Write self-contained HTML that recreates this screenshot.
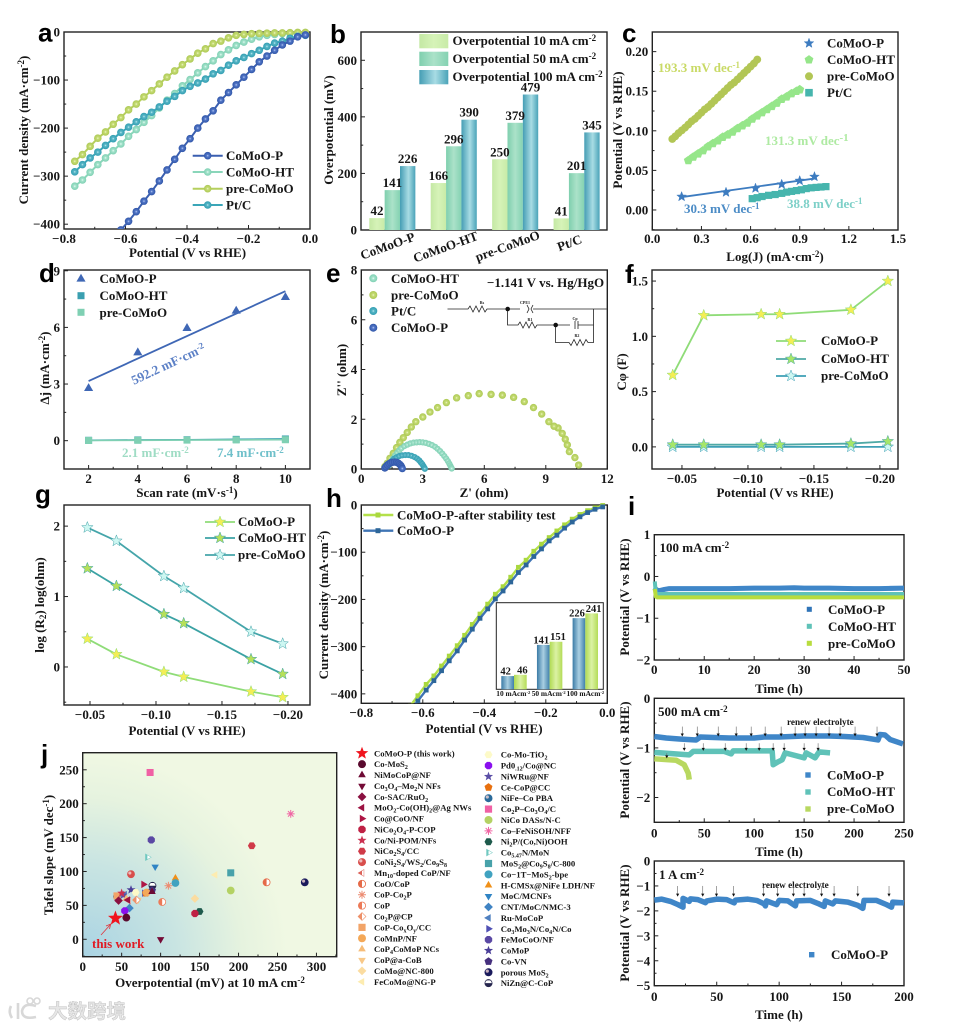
<!DOCTYPE html>
<html lang="en">
<head>
<meta charset="utf-8">
<title>CoMoO-P HER performance figure</title>
<style>
html,body{margin:0;padding:0;background:#fff;}
svg{display:block;width:965px;height:1027px;filter:blur(0.35px);}
text{font-family:"Liberation Serif","Noto Serif CJK SC",serif;font-weight:bold;font-size:13px;fill:#161616;}
.pl{font-family:"Liberation Sans",sans-serif;font-size:26px;fill:#000;}
</style>
</head>
<body>
<svg id="fig" viewBox="0 0 965 1027" width="965" height="1027">
<defs>
<radialGradient id="jbg" gradientUnits="userSpaceOnUse" cx="83" cy="957" r="205">
<stop offset="0" stop-color="#a9d3e3"/><stop offset="0.45" stop-color="#c8e4e2"/><stop offset="0.78" stop-color="#e6f3df"/><stop offset="1" stop-color="#f0f8e3"/>
</radialGradient>
<radialGradient id="ball-p" cx="0.5" cy="0.5" r="0.5"><stop offset="0" stop-color="#c6d6fa"/><stop offset="0.3" stop-color="#5478c8"/><stop offset="1" stop-color="#2f55a8"/></radialGradient>
<radialGradient id="ball-ht" cx="0.5" cy="0.5" r="0.5"><stop offset="0" stop-color="#ecfff7"/><stop offset="0.32" stop-color="#a3e2cb"/><stop offset="1" stop-color="#7fd0b3"/></radialGradient>
<radialGradient id="ball-pre" cx="0.5" cy="0.5" r="0.5"><stop offset="0" stop-color="#f4fbd4"/><stop offset="0.3" stop-color="#c6dc74"/><stop offset="1" stop-color="#adc955"/></radialGradient>
<radialGradient id="ball-pt" cx="0.5" cy="0.5" r="0.5"><stop offset="0" stop-color="#cdf3f8"/><stop offset="0.3" stop-color="#58b6c6"/><stop offset="1" stop-color="#329eb2"/></radialGradient>
<linearGradient id="bar-10"><stop offset="0" stop-color="#c4e8a4"/><stop offset="0.5" stop-color="#d6f3b8"/><stop offset="1" stop-color="#c8eba8"/></linearGradient>
<linearGradient id="bar-50"><stop offset="0" stop-color="#7fcfae"/><stop offset="0.5" stop-color="#abe2c9"/><stop offset="1" stop-color="#84d2b2"/></linearGradient>
<linearGradient id="bar-100"><stop offset="0" stop-color="#459db4"/><stop offset="0.55" stop-color="#a8dce4"/><stop offset="1" stop-color="#4aa3b8"/></linearGradient>
<linearGradient id="inset-blue"><stop offset="0" stop-color="#3b7ba6"/><stop offset="0.5" stop-color="#a9cfe2"/><stop offset="1" stop-color="#3f80aa"/></linearGradient>
<linearGradient id="inset-green"><stop offset="0" stop-color="#b0da52"/><stop offset="0.5" stop-color="#dbf2a4"/><stop offset="1" stop-color="#b4dc58"/></linearGradient>
</defs>

<rect x="0" y="0" width="965" height="1027" fill="#fff"/>
<rect x="83" y="753" width="254" height="204" fill="url(#jbg)"/>

<text class="pl" x="38" y="41.5">a</text>
<text class="pl" x="330" y="43">b</text>
<text class="pl" x="622" y="42">c</text>
<text class="pl" x="39" y="282">d</text>
<text class="pl" x="326" y="282">e</text>
<text class="pl" x="625" y="283">f</text>
<text class="pl" x="35" y="503">g</text>
<text class="pl" x="326" y="507">h</text>
<text class="pl" x="628" y="515">i</text>
<text class="pl" x="41" y="763">j</text>

<!-- axis titles -->
<text x="187.5" y="257" text-anchor="middle">Potential (V vs RHE)</text>
<text transform="translate(28,130) rotate(-90)" text-anchor="middle">Current density (mA·cm<tspan dy="-4" font-size="9">-2</tspan><tspan dy="4">)</tspan></text>
<text transform="translate(333,130) rotate(-90)" text-anchor="middle">Overpotential (mV)</text>
<text x="775" y="261" text-anchor="middle">Log(J) (mA·cm<tspan dy="-4" font-size="9">-2</tspan><tspan dy="4">)</tspan></text>
<text transform="translate(622,130) rotate(-90)" text-anchor="middle">Potential (V vs RHE)</text>
<text x="187" y="497" text-anchor="middle">Scan rate (mV·s<tspan dy="-4" font-size="9">-1</tspan><tspan dy="4">)</tspan></text>
<text transform="translate(49,368) rotate(-90)" text-anchor="middle">Δj (mA·cm<tspan dy="-4" font-size="9">-2</tspan><tspan dy="4">)</tspan></text>
<text x="484" y="497" text-anchor="middle">Z' (ohm)</text>
<text transform="translate(346,370) rotate(-90)" text-anchor="middle">Z'' (ohm)</text>
<text x="775" y="497" text-anchor="middle">Potential (V vs RHE)</text>
<text transform="translate(626,372) rotate(-90)" text-anchor="middle">Cφ (F)</text>
<text x="187" y="735" text-anchor="middle">Potential (V vs RHE)</text>
<text transform="translate(44,605) rotate(-90)" text-anchor="middle">log (R<tspan dy="2" font-size="9">2</tspan><tspan dy="-2">) log(ohm)</tspan></text>
<text x="484" y="733" text-anchor="middle">Potential (V vs RHE)</text>
<text transform="translate(328,605) rotate(-90)" text-anchor="middle">Current density (mA·cm<tspan dy="-4" font-size="9">-2</tspan><tspan dy="4">)</tspan></text>
<text x="779" y="693" text-anchor="middle">Time (h)</text>
<text transform="translate(629,597) rotate(-90)" text-anchor="middle">Potential (V vs RHE)</text>
<text x="779" y="856" text-anchor="middle">Time (h)</text>
<text transform="translate(629,760) rotate(-90)" text-anchor="middle">Potential (V vs RHE)</text>
<text x="779" y="1019" text-anchor="middle">Time (h)</text>
<text transform="translate(629,923) rotate(-90)" text-anchor="middle">Potential (V vs RHE)</text>
<text x="210" y="987" text-anchor="middle">Overpotential (mV) at 10 mA cm<tspan dy="-4" font-size="9">-2</tspan></text>
<text transform="translate(53,855) rotate(-90)" text-anchor="middle">Tafel slope (mV dec<tspan dy="-4" font-size="9">-1</tspan><tspan dy="4">)</tspan></text>

<!-- legends text -->
<text x="226" y="160">CoMoO-P</text>
<text x="226" y="176.5">CoMoO-HT</text>
<text x="226" y="193">pre-CoMoO</text>
<text x="226" y="209.5">Pt/C</text>

<text x="452.5" y="45">Overpotential 10 mA cm<tspan dy="-4" font-size="9">-2</tspan></text>
<text x="452.5" y="63">Overpotential 50 mA cm<tspan dy="-4" font-size="9">-2</tspan></text>
<text x="452.5" y="81">Overpotential 100 mA cm<tspan dy="-4" font-size="9">-2</tspan></text>
<text transform="translate(389,250) rotate(-20)" text-anchor="middle">CoMoO-P</text>
<text transform="translate(447,251) rotate(-20)" text-anchor="middle">CoMoO-HT</text>
<text transform="translate(509,250) rotate(-20)" text-anchor="middle">pre-CoMoO</text>
<text transform="translate(571,247) rotate(-20)" text-anchor="middle">Pt/C</text>

<text x="827" y="47.5">CoMoO-P</text>
<text x="827" y="64">CoMoO-HT</text>
<text x="827" y="80.5">pre-CoMoO</text>
<text x="827" y="97">Pt/C</text>
<text x="658" y="72" style="fill:#c9da66">193.3 mV dec<tspan dy="-4" font-size="9" style="fill:#c9da66">-1</tspan></text>
<text x="765" y="145" style="fill:#aeeaa2">131.3 mV dec<tspan dy="-4" font-size="11" style="fill:#aeeaa2">-1</tspan></text>
<text x="684" y="213" style="fill:#4c8cc6">30.3 mV dec<tspan dy="-4" font-size="9" style="fill:#4c8cc6">-1</tspan></text>
<text x="787" y="208" style="fill:#7ed0c8">38.8 mV dec<tspan dy="-4" font-size="9" style="fill:#7ed0c8">-1</tspan></text>

<text x="99.5" y="283">CoMoO-P</text>
<text x="99.5" y="300">CoMoO-HT</text>
<text x="99.5" y="317">pre-CoMoO</text>
<text transform="translate(170,368) rotate(-25)" text-anchor="middle" style="fill:#5c80c6">592.2 mF·cm<tspan dy="-4" font-size="9" style="fill:#5c80c6">-2</tspan></text>
<text x="122" y="457" style="fill:#9fdcc4">2.1 mF·cm<tspan dy="-4" font-size="9" style="fill:#9fdcc4">-2</tspan></text>
<text x="217" y="457" style="fill:#6fc0ca">7.4 mF·cm<tspan dy="-4" font-size="9" style="fill:#6fc0ca">-2</tspan></text>

<text x="391" y="283">CoMoO-HT</text>
<text x="391" y="299.5">pre-CoMoO</text>
<text x="391" y="315.5">Pt/C</text>
<text x="391" y="332">CoMoO-P</text>
<text x="487" y="287">−1.141 V vs. Hg/HgO</text>
<g fill="none" stroke="#222" stroke-width="0.8">
<path d="M447.5 309H468l2 -3 3 6 3 -6 3 6 3 -6 3 6 2 -3H507.5M507.5 309H520M527 305l2 4 -2 4M533 305l-2 4 2 4M533 309H606.5M507.5 309V325H518l2 -3 3 6 3 -6 3 6 3 -6 3 6 2 -3H555.5H570M575 321V329M578 321V329M578 325H593.5M593.5 309V342.5H588l-2 -3 -3 6 -3 -6 -3 6 -3 -6 -3 6 -2 -3H555.5V325"/>
</g>
<circle cx="507.7" cy="309" r="2.3" fill="#111"/>
<circle cx="555.7" cy="325" r="2.3" fill="#111"/>
<text x="482" y="304" text-anchor="middle" style="font-size:4px">Rs</text>
<text x="525" y="304" text-anchor="middle" style="font-size:4px">CPE1</text>
<text x="530" y="321" text-anchor="middle" style="font-size:4px">R1</text>
<text x="575" y="320" text-anchor="middle" style="font-size:4px">Cp</text>
<text x="577" y="337" text-anchor="middle" style="font-size:4px">R2</text>

<text x="821" y="345">CoMoO-P</text>
<text x="821" y="363">CoMoO-HT</text>
<text x="821" y="380">pre-CoMoO</text>

<text x="238" y="526">CoMoO-P</text>
<text x="238" y="542">CoMoO-HT</text>
<text x="238" y="559">pre-CoMoO</text>

<text x="397" y="519.5">CoMoO-P-after stability test</text>
<text x="397" y="535">CoMoO-P</text>

<text x="659.5" y="552">100 mA cm<tspan dy="-4" font-size="9">-2</tspan></text>
<text x="828" y="614">CoMoO-P</text>
<text x="828" y="631">CoMoO-HT</text>
<text x="828" y="648">pre-CoMoO</text>
<text x="658" y="716">500 mA cm<tspan dy="-4" font-size="9">-2</tspan></text>
<text x="787" y="725" style="font-size:9.2px">renew electrolyte</text>
<text x="827" y="779.5">CoMoO-P</text>
<text x="827" y="796">CoMoO-HT</text>
<text x="827" y="813">pre-CoMoO</text>
<text x="659" y="879">1 A cm<tspan dy="-4" font-size="9">-2</tspan></text>
<text x="762" y="888" style="font-size:9.2px">renew electrolyte</text>
<text x="831" y="959">CoMoO-P</text>

<text x="92" y="948" style="fill:#e01b24">this work</text>
<path d="M101 935L110 925M106 926L110.7 924 109.5 929" fill="none" stroke="#e0343c" stroke-width="0.8"/>

<g>
<path d="M11 1006Q8 1012 12 1018M18 1003V1019M36 1006Q24 1002 22 1011Q22 1020 36 1017" fill="none" stroke="#d8d8d8" stroke-width="2.6"/>
<circle cx="30" cy="1001" r="3" fill="none" stroke="#d8d8d8" stroke-width="1.6"/>
<circle cx="37" cy="1001" r="3" fill="none" stroke="#d8d8d8" stroke-width="1.6"/>
<text x="48" y="1018" style="font-family:'Noto Sans CJK SC','Liberation Sans',sans-serif;font-size:19.5px;fill:#e6e6e6;stroke:#c4c4c4;stroke-width:0.5">大数跨境</text>
</g>
</svg>

<script>
/* ---------- panel a: polarization curves ---------- */
const aPotential = [-0.765,-0.74,-0.715,-0.69,-0.665,-0.64,-0.615,-0.59,-0.565,-0.54,-0.515,-0.49,-0.465,-0.44,-0.415,-0.39,-0.365,-0.34,-0.315,-0.29,-0.265,-0.24,-0.215,-0.19,-0.165,-0.14,-0.115,-0.09,-0.065,-0.04,-0.015];
const aPre = [-269,-255,-238,-221,-208,-192,-178,-162,-150,-135,-122,-108,-94,-81,-68,-56,-44,-35,-24,-19,-12,-7,-5,-3.5,-3,-2.5,-2,-2,-1.5,-1,-1];
const aHT = [-321,-308,-292,-276,-262,-247,-233,-217,-203,-188,-174,-158,-142,-128,-112,-99,-85,-72,-60,-47,-37,-28,-21,-15,-10,-7,-5,-3.5,-3,-2,-1.5];
const aPt = [-291,-276,-262,-250,-236,-222,-209,-198,-187,-176,-167,-156,-144,-134,-122,-113,-106,-98,-87,-80,-69,-60,-53,-45,-38,-30,-23,-19,-13,-9,-7];
const aPotentialP = [-0.615,-0.59,-0.565,-0.54,-0.515,-0.49,-0.465,-0.44,-0.415,-0.39,-0.365,-0.34,-0.315,-0.29,-0.265,-0.24,-0.215,-0.19,-0.165,-0.14,-0.115,-0.09,-0.065,-0.04,-0.015];
const aP = [-412,-394,-374,-352,-332,-310,-287,-265,-242,-222,-200,-181,-164,-142,-126,-110,-94,-78,-62,-50,-38,-27,-19,-10,-6];
const aXTicks = [-0.8,-0.6,-0.4,-0.2,0];
const aXLabels = ['−0.8','−0.6','−0.4','−0.2','0.0'];
const aYTicks = [0,-100,-200,-300,-400];
const aYLabels = ['0','−100','−200','−300','−400'];

/* ---------- panel b: overpotential bars ---------- */
const bCategories = ['CoMoO-P','CoMoO-HT','pre-CoMoO','Pt/C'];
const bOver10 = [42,166,250,41];
const bOver50 = [141,296,379,201];
const bOver100 = [226,390,479,345];
const bYTicks = [0,200,400,600];
const bYLabels = ['0','200','400','600'];

/* ---------- panel c: Tafel plots ---------- */
const cPX = [0.179,0.45,0.63,0.79,0.9,0.99];
const cPY = [0.0168,0.0223,0.0274,0.0324,0.037,0.042];
const cPFitX = [0.17,1.0];
const cPFitY = [0.016,0.040];
const cHTX = [0.22,0.25,0.28,0.31,0.34,0.37,0.4,0.43,0.46,0.49,0.52,0.55,0.58,0.61,0.64,0.67,0.7,0.73,0.76,0.79,0.82,0.85,0.88,0.9];
const cHTY = [0.0625,0.067,0.071,0.075,0.08,0.084,0.0875,0.092,0.095,0.0985,0.103,0.1065,0.11,0.115,0.119,0.123,0.127,0.131,0.135,0.14,0.143,0.147,0.15,0.152];
const cPreX = [0.122,0.14,0.16,0.18,0.2,0.22,0.24,0.26,0.28,0.3,0.32,0.34,0.36,0.38,0.4,0.42,0.44,0.46,0.48,0.5,0.52,0.54,0.56,0.58,0.6,0.62,0.641];
const cPreY = [0.0897,0.093,0.097,0.1005,0.104,0.108,0.112,0.115,0.119,0.123,0.127,0.13,0.134,0.138,0.142,0.146,0.15,0.154,0.158,0.161,0.165,0.169,0.173,0.177,0.181,0.185,0.19];
const cPtX = [0.61,0.64,0.67,0.71,0.75,0.79,0.82,0.85,0.88,0.91,0.94,0.97,1.0,1.03,1.06];
const cPtY = [0.0143,0.0155,0.017,0.0185,0.0195,0.021,0.0225,0.0235,0.0245,0.0255,0.027,0.028,0.0285,0.029,0.0295];
const cXTicks = [0,0.3,0.6,0.9,1.2,1.5];
const cXLabels = ['0.0','0.3','0.6','0.9','1.2','1.5'];
const cYTicks = [0,0.05,0.1,0.15,0.2];
const cYLabels = ['0.00','0.05','0.10','0.15','0.20'];

/* ---------- panel d: double-layer capacitance ---------- */
const dScan = [2,4,6,8,10];
const dP = [2.77,4.66,5.95,6.87,7.59];
const dHT = [0.02,0.04,0.05,0.07,0.09];
const dPre = [0.01,0.02,0.03,0.04,0.05];
const dPFitX = [2,10];
const dPFitY = [3.16,7.92];
const dXTicks = [2,4,6,8,10];
const dXLabels = ['2','4','6','8','10'];
const dYTicks = [0,3,6,9];
const dYLabels = ['0','3','6','9'];

/* ---------- panel e: Nyquist plots ---------- */
const ePreX = [10.6,10.42,10.15,10.05,9.95,9.8,9.6,9.4,9.15,8.8,8.4,7.95,7.43,6.88,6.33,5.75,5.22,4.65,4.15,3.72,3.35,3.0,2.66,2.44,2.24,2.05,1.88,1.72,1.56,1.4,1.27,1.15];
const ePreY = [0.16,0.46,0.7,0.97,1.2,1.43,1.65,1.72,1.9,2.21,2.47,2.71,2.88,2.97,3.0,3.03,2.95,2.86,2.67,2.47,2.29,2.09,1.9,1.69,1.47,1.26,1.07,0.86,0.63,0.43,0.23,0.1];
const eHTX = [1.35,1.45,1.55,1.65,1.75,1.85,1.95,2.1,2.25,2.4,2.55,2.7,2.85,3,3.15,3.3,3.45,3.6,3.72,3.84,3.95,4.05,4.14,4.22,4.29,4.34,4.38,4.41];
const eHTY = [0.15,0.3,0.43,0.55,0.66,0.75,0.83,0.92,0.98,1.03,1.06,1.07,1.08,1.07,1.05,1.01,0.96,0.89,0.81,0.72,0.62,0.52,0.42,0.32,0.22,0.14,0.07,0.02];
const ePtX = [1.3,1.4,1.5,1.6,1.72,1.85,2,2.15,2.3,2.45,2.6,2.72,2.82,2.9,2.97,3.03,3.07,3.1];
const ePtY = [0.12,0.24,0.33,0.41,0.47,0.52,0.55,0.56,0.56,0.53,0.48,0.42,0.35,0.27,0.2,0.12,0.06,0.01];
const ePX = [1.15,1.2,1.27,1.35,1.43,1.52,1.62,1.72,1.8,1.87,1.93,1.97,2];
const ePY = [0.04,0.1,0.16,0.21,0.25,0.27,0.28,0.27,0.24,0.19,0.14,0.08,0.02];
const eXTicks = [0,3,6,9,12];
const eXLabels = ['0','3','6','9','12'];
const eYTicks = [0,2,4,6,8];
const eYLabels = ['0','2','4','6','8'];

/* ---------- panel f: capacitance vs potential ---------- */
const fPotential = [-0.043,-0.0665,-0.11,-0.124,-0.178,-0.206];
const fP = [0.65,1.19,1.2,1.2,1.24,1.5];
const fHT = [0.02,0.02,0.02,0.02,0.03,0.05];
const fPre = [0,0,0,0,0,0];
const fXTicks = [-0.05,-0.1,-0.15,-0.2];
const fXLabels = ['−0.05','−0.10','−0.15','−0.20'];
const fYTicks = [0,0.5,1,1.5];
const fYLabels = ['0.0','0.5','1.0','1.5'];

/* ---------- panel g: charge-transfer resistance ---------- */
const gPotential = [-0.048,-0.07,-0.106,-0.121,-0.172,-0.196];
const gP = [0.4,0.18,-0.07,-0.14,-0.35,-0.43];
const gHT = [1.4,1.15,0.75,0.62,0.11,-0.1];
const gPre = [1.98,1.79,1.29,1.12,0.5,0.33];
const gXTicks = [-0.05,-0.1,-0.15,-0.2];
const gXLabels = ['−0.05','−0.10','−0.15','−0.20'];
const gYTicks = [0,1,2];
const gYLabels = ['0','1','2'];

/* ---------- panel h: stability polarization ---------- */
const hPotential = [-0.64,-0.616,-0.589,-0.564,-0.539,-0.514,-0.488,-0.464,-0.439,-0.414,-0.389,-0.364,-0.339,-0.314,-0.289,-0.264,-0.239,-0.214,-0.189,-0.164,-0.139,-0.114,-0.089,-0.064,-0.04,-0.015];
const hP = [-435,-415,-392,-372,-351,-330,-309,-286,-263,-240,-220,-199,-182,-163,-143,-127,-109,-93,-76,-64,-49,-36,-25,-16,-9,-4];
const hAfter = [-425,-404,-380,-362,-341,-320,-298,-276,-253,-231,-210,-189,-173,-153,-132,-117,-98,-83,-69,-55,-42,-30,-20,-12,-6,-1];
const hXTicks = [-0.8,-0.6,-0.4,-0.2,0];
const hXLabels = ['−0.8','−0.6','−0.4','−0.2','0.0'];
const hYTicks = [0,-100,-200,-300,-400];
const hYLabels = ['0','−100','−200','−300','−400'];
const hInsetBefore = [42,141,226];
const hInsetAfter = [46,151,241];

/* ---------- panel i: chronopotentiometry ---------- */
const i1Time = [0.1,0.3,0.6,1,2,3,5,10,15,20,25,28,30,35,40,45,50];
const i1P = [-0.35,-0.3,-0.33,-0.34,-0.31,-0.29,-0.29,-0.29,-0.29,-0.28,-0.28,-0.27,-0.28,-0.28,-0.29,-0.29,-0.28];
const i1HT = [-0.12,-0.4,-0.42,-0.42,-0.42,-0.42,-0.42,-0.42,-0.42,-0.42,-0.42,-0.42,-0.42,-0.42,-0.42,-0.42,-0.42];
const i1Pre = [-0.3,-0.48,-0.5,-0.5,-0.5,-0.5,-0.5,-0.5,-0.5,-0.5,-0.5,-0.5,-0.5,-0.5,-0.5,-0.5,-0.5];
const i1XTicks = [0,10,20,30,40,50];
const i1XLabels = ['0','10','20','30','40','50'];
const i1YTicks = [1,0,-1,-2];
const i1YLabels = ['1','0','−1','−2'];

const i2PTime = [0,12,25,42,46,60,75,100,110,125,150,175,190,209,224,226,231,236,249];
const i2P = [-0.77,-0.8,-0.82,-0.84,-0.78,-0.79,-0.8,-0.8,-0.78,-0.78,-0.76,-0.76,-0.77,-0.79,-0.84,-0.73,-0.74,-0.83,-0.92];
const i2HTTime = [0,35,39,70,77,79,118,119,124,128,131,150,152,161,165,176];
const i2HT = [-1.09,-1.14,-1.07,-1.07,-1.12,-1.06,-1.06,-1.34,-1.28,-1.24,-1.1,-1.2,-1.1,-1.2,-1.08,-1.1];
const i2PreTime = [0,22,30,34,35];
const i2Pre = [-1.22,-1.25,-1.34,-1.51,-1.64];
const i2ArrowsTop = [28,43,64,82,97,111,127,141,151,162,175,186,201,223];
const i2ArrowsLow = [30,49,71,92,105,119,130,150,164];
const i2ArrowsLowest = [12.5];
const i2XTicks = [0,50,100,150,200,250];
const i2XLabels = ['0','50','100','150','200','250'];
const i2YTicks = [0,-1,-2];
const i2YLabels = ['0','−1','−2'];

const i3Time = [0,6,13,19,23,23,28,29,35,41,42,50,58,64,65,75,82,88,89,90,98,100,107,113,114,125,131,136,137,143,145,155,163,167,168,178,186,190,191,200];
const i3P = [-1.57,-1.53,-1.62,-1.75,-1.85,-1.5,-1.62,-1.52,-1.55,-1.67,-1.6,-1.53,-1.55,-1.68,-1.57,-1.53,-1.58,-1.72,-1.8,-1.6,-1.75,-1.58,-1.6,-1.8,-1.6,-1.58,-1.7,-1.82,-1.6,-1.72,-1.6,-1.65,-1.78,-1.9,-1.58,-1.58,-1.75,-1.85,-1.65,-1.68];
const i3Arrows = [18.7,38.8,49.8,63.5,87.5,98.8,111.4,120,134,144,163,188];
const i3XTicks = [0,50,100,150,200];
const i3XLabels = ['0','50','100','150','200'];
const i3YTicks = [0,-1,-2,-3,-4,-5];
const i3YLabels = ['0','−1','−2','−3','−4','−5'];

/* ---------- panel j: literature comparison ---------- */
const jSamples = ['CoMoO-P (this work)','Co-MoS~2~','NiMoCoP@NF','Co~3~O~4~–Mo~2~N NFs','Co-SAC/RuO~2~','MoO~2~-Co(OH)~2~@Ag NWs','Co@CoO/NF','NiCo~2~O~4~-P-COP','Co/Ni-POM/NFs','NiCo~2~S~4~/CC','CoNi~2~S~4~/WS~2~/Co~9~S~8~','Mn~10~-doped CoP/NF','CoO/CoP','CoP-Co~2~P','CoP','Co~2~P@CP','CoP-Co~x~O~y~/CC','CoMnP/NF','CoP~4~CoMoP NCs','CoP@a-CoB','CoMo@NC-800','FeCoMo@NG-P','Co-Mo-TiO~2~','Pd0~.12~/Co@NC','NiWRu@NF','Ce-CoP@CC','NiFe–Co PBA','Co~2~P–Co~3~O~4~/C','NiCo DASs/N-C','Co–FeNiSOH/NFF','Ni~2~P/(Co,Ni)OOH','Co~5.47~N/MoN','MoS~2~@Co~9~S~8~/C-800','Co−1T−MoS~2~-bpe','H-CMSx@NiFe LDH/NF','MoC/MCNFs','CNT/MoC/NMC-3','Ru-MoCoP','Co~3~Mo~3~N/Co~4~N/Co','FeMoCoO/NF','CoMoP','Co-VN','porous MoS~2~','NiZn@C-CoP'];
const jOverpotential = [42,56,89,100,46,58,78,144,50,217,62,59,236,110,102,69,44,82,56,71,144,170,68,54,52,81,44,86.5,190,267,150,83,190,119,119,93,60,54,79,88,62,89,285,89.5];
const jTafel = [31,32,70,0,57,58,81,38,68,138,96,57,84,79,55,58,64,69,60,58,60,95,69,42,65,68,63,246,72,185,41,121,98,83,90,107,46,66,68,146.5,73,72,84,79];
const jShapes = ['star','circle','tri','inv','diamond','left','right','octagon','star','hexagon','ball','halfleft','halfcircle','aster','halfcircle','halfdiamond','square','circle','tri','inv','diamond','left','hexagon','octagon','star','pentagon','ball','square','circle','aster','hexagon','halfright','square','circle','tri','inv','diamond','left','right','octagon','star','pentagon','ball','halfdome'];
const jColors = ['#f0141e','#5a0a2e','#6e0a34','#740a36','#8a1040','#9c1242','#ae1444','#bf2044','#cb3050','#d03a48','#d84e4c','#dc6258','#e56a48','#ec8c72','#ec7a58','#ee9068','#f2a468','#f4a858','#f6bc78','#f8c888','#fbdca0','#fdecb0','#fdfac8','#8a10ee','#5a4ea6','#e8700e','#2a6a9a','#f060a4','#b4d264','#f066a4','#1e5a4c','#70c8c0','#48a2aa','#40a2c0','#f09018','#3084c4','#4084c4','#5080c0','#5050b4','#5a48a4','#4a3e98','#46307e','#1a1a5c','#26264e'];
const jXTicks = [0,50,100,150,200,250,300];
const jXLabels = ['0','50','100','150','200','250','300'];
const jYTicks = [0,50,100,150,200,250];
const jYLabels = ['0','50','100','150','200','250'];

/* ---------- drawing helpers ---------- */
const svg = document.getElementById('fig');
const NS = svg.namespaceURI;
let uid = 0;

function mk(parent, tag, name, attrs, txt) {
  const el = document.createElementNS(NS, tag);
  
  
  for (const k in attrs) el.setAttribute(k, attrs[k]);
  if (txt !== undefined) el.textContent = txt;
  parent.appendChild(el);
  return el;
}

function makeAxes(panel, L, R, T, B, xd, yd, xt, xl, yt, yl, xBase) {
  const g = mk(svg, 'g', panel + '-axes', {});
  const x = v => L + (v - xd[0]) / (xd[1] - xd[0]) * (R - L);
  const y = v => B - (v - yd[0]) / (yd[1] - yd[0]) * (B - T);
  const tick = (d, nm) => mk(g, 'path', panel + nm, {d: d, fill: 'none', stroke: '#222', 'stroke-width': 1});
  const minors = (t, dom) => {
    const s = [...t].sort((a, b) => a - b), out = [];
    const lo = Math.min(dom[0], dom[1]), hi = Math.max(dom[0], dom[1]);
    for (let i = 0; i < s.length - 1; i++) out.push((s[i] + s[i + 1]) / 2);
    if (s.length > 1) {
      const st = s[1] - s[0];
      if (s[0] - st / 2 >= lo) out.push(s[0] - st / 2);
      if (s[s.length - 1] + st / 2 <= hi) out.push(s[s.length - 1] + st / 2);
    }
    return out;
  };
  if (xt) {
    xt.forEach((v, i) => {
      tick('M' + x(v) + ' ' + B + 'v-4', '-x-tick');
      mk(g, 'text', panel + '-x-tick-label', {x: x(v), y: xBase, 'text-anchor': 'middle'}, xl[i]);
    });
    minors(xt, xd).forEach(v => tick('M' + x(v) + ' ' + B + 'v-2.2', '-x-minor-tick'));
  }
  yt.forEach((v, i) => {
    tick('M' + L + ' ' + y(v) + 'h4', '-y-tick');
    mk(g, 'text', panel + '-y-tick-label', {x: L - 4, y: y(v) + 4.5, 'text-anchor': 'end'}, yl[i]);
  });
  minors(yt, yd).forEach(v => tick('M' + L + ' ' + y(v) + 'h2.2', '-y-minor-tick'));
  mk(g, 'rect', panel + '-frame', {x: L, y: T, width: R - L, height: B - T, fill: 'none', stroke: '#222', 'stroke-width': 1.4});
  const cid = 'clip-' + panel;
  const cp = mk(svg, 'clipPath', panel + '-clip', {id: cid});
  mk(cp, 'rect', panel + '-clip-rect', {x: L - 6, y: T - 6, width: R - L + 12, height: B - T + 6});
  return {x, y, clip: cid};
}

function polyPts(n, r, cx, cy, start, inner) {
  const pts = [];
  const count = inner ? n * 2 : n;
  for (let i = 0; i < count; i++) {
    const rr = inner && i % 2 ? r * inner : r;
    const a = start + i * 2 * Math.PI / count;
    pts.push((cx + rr * Math.cos(a)).toFixed(2) + ',' + (cy + rr * Math.sin(a)).toFixed(2));
  }
  return pts.join(' ');
}

function shapeEl(parent, name, shape, x, y, r, fill, extra) {
  const a = Object.assign({fill: fill}, extra || {});
  const up = -Math.PI / 2;
  if (shape === 'circle') return mk(parent, 'circle', name, Object.assign(a, {cx: x, cy: y, r: r}));
  if (shape === 'square') return mk(parent, 'rect', name, Object.assign(a, {x: x - r * 0.9, y: y - r * 0.9, width: r * 1.8, height: r * 1.8}));
  const table = {
    star: [5, r * 1.2, up, 0.42], tri: [3, r * 1.1, up], inv: [3, r * 1.1, -up], diamond: [4, r * 1.1, up],
    left: [3, r * 1.1, Math.PI], right: [3, r * 1.1, 0], hexagon: [6, r, 0], octagon: [8, r, Math.PI / 8], pentagon: [5, r * 1.05, up]
  };
  const t = table[shape];
  return mk(parent, 'polygon', name, Object.assign(a, {points: polyPts(t[0], t[1], x, y, t[2], t[3])}));
}

function marker(parent, name, shape, x, y, r, color) {
  if (shape === 'ball') {
    shapeEl(parent, name, 'circle', x, y, r, color);
    mk(parent, 'circle', name + '-highlight', {cx: x - r * 0.3, cy: y - r * 0.3, r: r * 0.4, fill: '#f3d6d6', opacity: 0.8});
    return;
  }
  if (shape === 'aster') {
    const g = mk(parent, 'g', name, {stroke: color, 'stroke-width': 1});
    for (let i = 0; i < 4; i++) {
      const a = i * Math.PI / 4, dx = r * Math.cos(a), dy = r * Math.sin(a);
      mk(g, 'line', name + '-spoke', {x1: x - dx, y1: y - dy, x2: x + dx, y2: y + dy});
    }
    mk(parent, 'circle', name + '-centre', {cx: x, cy: y, r: r * 0.35, fill: color});
    return;
  }
  if (shape.indexOf('half') === 0) {
    const baseMap = {halfcircle: 'circle', halfdiamond: 'diamond', halfleft: 'left', halfright: 'right', halfdome: 'circle'};
    const base = baseMap[shape];
    shapeEl(parent, name, base, x, y, r, color);
    const id = 'half-' + (uid++);
    const cp = mk(svg, 'clipPath', name + '-half-clip', {id: id});
    const rect = shape === 'halfdome'
      ? {x: x - r * 1.3, y: y - r * 0.7, width: r * 2.6, height: r * 0.7}
      : {x: x, y: y - r * 1.3, width: r * 1.3, height: r * 2.6};
    mk(cp, 'rect', name + '-half-clip-rect', rect);
    shapeEl(parent, name + '-white-half', base, x, y, r * 0.8, '#fff', {'clip-path': 'url(#' + id + ')'});
    return;
  }
  shapeEl(parent, name, shape, x, y, r, color);
}

function starMark(parent, name, x, y, r, fill, stroke, sw) {
  shapeEl(parent, name, 'star', x, y, r, fill, {stroke: stroke, 'stroke-width': sw === undefined ? 0.5 : sw});
}

function line(parent, name, axes, xs, ys, color, w, extra) {
  const pts = xs.map((v, i) => axes.x(v).toFixed(2) + ',' + axes.y(ys[i]).toFixed(2)).join(' ');
  return mk(parent, 'polyline', name, Object.assign({points: pts, fill: 'none', stroke: color, 'stroke-width': w, 'stroke-linejoin': 'round'}, extra || {}));
}

function series(panel, name, clip) {
  return mk(svg, 'g', panel + '-series-' + name, clip ? {'clip-path': 'url(#' + clip + ')'} : {});
}

function downArrow(parent, name, x, yTail, yTip) {
  mk(parent, 'line', name + '-shaft', {x1: x, y1: yTail, x2: x, y2: yTip - 2, stroke: '#666', 'stroke-width': 0.6});
  mk(parent, 'polygon', name + '-head', {points: (x - 1.6) + ',' + (yTip - 3) + ' ' + (x + 1.6) + ',' + (yTip - 3) + ' ' + x + ',' + yTip, fill: '#111'});
}

/* ---------- panel a ---------- */
(function () {
  const ax = makeAxes('a', 64, 310, 32, 229, [-0.8, 0], [-410, 0], aXTicks, aXLabels, aYTicks, aYLabels, 243);
  const defs = [['comoo-ht', aPotential, aHT, '#8ad6ba', 'ball-ht'], ['pre-comoo', aPotential, aPre, '#b5cf5d', 'ball-pre'], ['pt-c', aPotential, aPt, '#3aa6b8', 'ball-pt'], ['comoo-p', aPotentialP, aP, '#3a5fb0', 'ball-p']];
  defs.forEach(d => {
    const g = series('a', d[0], ax.clip);
    line(g, 'a-line-' + d[0], ax, d[1], d[2], d[3], 2);
    d[1].forEach((v, i) => mk(g, 'circle', 'a-point-' + d[0], {cx: ax.x(v), cy: ax.y(d[2][i]), r: 3.8, fill: 'url(#' + d[4] + ')'}));
  });
  const leg = mk(svg, 'g', 'a-legend-swatches', {});
  [['comoo-p', '#3a5fb0', 'ball-p', 155.7], ['comoo-ht', '#8ad6ba', 'ball-ht', 172], ['pre-comoo', '#b5cf5d', 'ball-pre', 188.7], ['pt-c', '#3aa6b8', 'ball-pt', 205]].forEach(d => {
    mk(leg, 'line', 'a-legend-line-' + d[0], {x1: 192.7, x2: 222.7, y1: d[3], y2: d[3], stroke: d[1], 'stroke-width': 2});
    mk(leg, 'circle', 'a-legend-dot-' + d[0], {cx: 207.7, cy: d[3], r: 3.8, fill: 'url(#' + d[2] + ')'});
  });
})();

/* ---------- panel b ---------- */
(function () {
  const ax = makeAxes('b', 361, 607, 32, 230, [-0.51, 3.495], [0, 700], null, null, bYTicks, bYLabels, 0);
  const groups = [[bOver10, 'bar-10', -1, 'over-10'], [bOver50, 'bar-50', 0, 'over-50'], [bOver100, 'bar-100', 1, 'over-100']];
  const w = ax.x(0.25) - ax.x(0);
  const g = series('b', 'bars');
  groups.forEach(s => {
    s[0].forEach((v, i) => {
      const cx = ax.x(i + s[2] * 0.25);
      mk(g, 'rect', 'b-bar-' + s[3], {x: cx - w / 2, y: ax.y(v), width: w, height: ax.y(0) - ax.y(v), fill: 'url(#' + s[1] + ')'});
    });
  });
  groups.forEach(s => {
    s[0].forEach((v, i) => {
      const cx = ax.x(i + s[2] * 0.25);
      mk(g, 'text', 'b-value-label', {x: cx, y: ax.y(v) - 3, 'text-anchor': 'middle'}, String(v));
    });
  });
  const leg = mk(svg, 'g', 'b-legend-swatches', {});
  [['bar-10', 34], ['bar-50', 51.7], ['bar-100', 70]].forEach(d => mk(leg, 'rect', 'b-legend-swatch-' + d[0], {x: 419.3, y: d[1], width: 29, height: 14.3, fill: 'url(#' + d[0] + ')'}));
})();

/* ---------- panel c ---------- */
(function () {
  const ax = makeAxes('c', 652.3, 898, 32, 230, [0, 1.5], [-0.0253, 0.2248], cXTicks, cXLabels, cYTicks, cYLabels, 243);
  let g = series('c', 'comoo-p');
  line(g, 'c-fit-comoo-p', ax, cPFitX, cPFitY, '#3d7cc0', 1.8);
  cPX.forEach((v, i) => starMark(g, 'c-point-comoo-p', ax.x(v), ax.y(cPY[i]), 4.2, '#3d7cc0', '#3d7cc0'));
  g = series('c', 'pt-c');
  cPtX.forEach((v, i) => shapeEl(g, 'c-point-pt-c', 'square', ax.x(v), ax.y(cPtY[i]), 4, '#46b5ad'));
  g = series('c', 'comoo-ht');
  line(g, 'c-line-comoo-ht', ax, cHTX, cHTY, '#96e68a', 5);
  cHTX.forEach((v, i) => shapeEl(g, 'c-point-comoo-ht', 'pentagon', ax.x(v), ax.y(cHTY[i]), 4.5, '#96e68a'));
  g = series('c', 'pre-comoo');
  line(g, 'c-line-pre-comoo', ax, cPreX, cPreY, '#b2c655', 6.5);
  cPreX.forEach((v, i) => mk(g, 'circle', 'c-point-pre-comoo', {cx: ax.x(v), cy: ax.y(cPreY[i]), r: 3.9, fill: '#b2c655'}));
  const leg = mk(svg, 'g', 'c-legend-swatches', {});
  starMark(leg, 'c-legend-star', 809, 43.3, 4.2, '#3d7cc0', '#3d7cc0');
  shapeEl(leg, 'c-legend-pentagon', 'pentagon', 809, 59.7, 4.4, '#96e68a');
  mk(leg, 'circle', 'c-legend-circle', {cx: 809, cy: 76.3, r: 4, fill: '#b2c655'});
  shapeEl(leg, 'c-legend-square', 'square', 809, 92.7, 4.2, '#46b5ad');
})();

/* ---------- panel d ---------- */
(function () {
  const ax = makeAxes('d', 64, 310, 270, 469, [1, 11], [-1.5, 9.04], dXTicks, dXLabels, dYTicks, dYLabels, 483);
  let g = series('d', 'comoo-p');
  line(g, 'd-fit-comoo-p', ax, dPFitX, dPFitY, '#3f67b5', 1.8);
  dScan.forEach((v, i) => shapeEl(g, 'd-point-comoo-p', 'tri', ax.x(v), ax.y(dP[i]), 4.8, '#3f67b5'));
  g = series('d', 'comoo-ht');
  line(g, 'd-line-comoo-ht', ax, dScan, dHT, '#3a9fb0', 1.6);
  dScan.forEach((v, i) => shapeEl(g, 'd-point-comoo-ht', 'square', ax.x(v), ax.y(dHT[i]), 3.9, '#3a9fb0'));
  g = series('d', 'pre-comoo');
  line(g, 'd-line-pre-comoo', ax, dScan, dPre, '#7fd0b3', 1.6);
  dScan.forEach((v, i) => shapeEl(g, 'd-point-pre-comoo', 'square', ax.x(v), ax.y(dPre[i]), 3.9, '#7fd0b3'));
  const leg = mk(svg, 'g', 'd-legend-swatches', {});
  shapeEl(leg, 'd-legend-triangle', 'tri', 81, 279, 4.8, '#3f67b5');
  shapeEl(leg, 'd-legend-square-ht', 'square', 81, 295.7, 3.9, '#3a9fb0');
  shapeEl(leg, 'd-legend-square-pre', 'square', 81, 312.3, 3.9, '#7fd0b3');
})();

/* ---------- panel e ---------- */
(function () {
  const ax = makeAxes('e', 361.3, 607.3, 270, 469, [0, 12], [0, 8], eXTicks, eXLabels, eYTicks, eYLabels, 483);
  [['pre-comoo', ePreX, ePreY, 'ball-pre', 3.7], ['comoo-ht', eHTX, eHTY, 'ball-ht', 3.1], ['pt-c', ePtX, ePtY, 'ball-pt', 3.1], ['comoo-p', ePX, ePY, 'ball-p', 3.7]].forEach(d => {
    const g = series('e', d[0]);
    d[1].forEach((v, i) => mk(g, 'circle', 'e-point-' + d[0], {cx: ax.x(v), cy: ax.y(d[2][i]), r: d[4], fill: 'url(#' + d[3] + ')'}));
  });
  const leg = mk(svg, 'g', 'e-legend-swatches', {});
  [['comoo-ht', 'ball-ht', 278.3], ['pre-comoo', 'ball-pre', 295], ['pt-c', 'ball-pt', 311], ['comoo-p', 'ball-p', 327.7]].forEach(d => mk(leg, 'circle', 'e-legend-dot-' + d[0], {cx: 373.3, cy: d[2], r: 4, fill: 'url(#' + d[1] + ')'}));
})();

/* ---------- panels f and g share a star style ---------- */
function starPlot(panel, ax, xs, rows, yLegend, lx) {
  rows.forEach(r => {
    const g = series(panel, r[0]);
    line(g, panel + '-line-' + r[0], ax, xs, r[1], r[2], 1.8);
    xs.forEach((v, i) => starMark(g, panel + '-point-' + r[0], ax.x(v), ax.y(r[1][i]), 5, r[3], r[2]));
  });
  const leg = mk(svg, 'g', panel + '-legend-swatches', {});
  rows.forEach((r, i) => {
    mk(leg, 'line', panel + '-legend-line-' + r[0], {x1: lx, x2: lx + 30, y1: yLegend[i], y2: yLegend[i], stroke: r[2], 'stroke-width': 1.8});
    starMark(leg, panel + '-legend-star-' + r[0], lx + 15, yLegend[i], 5, r[3], r[2]);
  });
}

const axF = makeAxes('f', 652, 898, 270, 469, [-0.0273, -0.2137], [-0.2, 1.6], fXTicks, fXLabels, fYTicks, fYLabels, 483);
starPlot('f', axF, fPotential, [['pre-comoo', fPre, '#3d9fb5', '#cdf7f2'], ['comoo-ht', fHT, '#4fa9a6', '#a6e66a'], ['comoo-p', fP, '#8fdc78', '#f3ee55']], [376, 359, 341], 776);

const axG = makeAxes('g', 64, 310, 505, 705, [-0.0303, -0.2167], [-0.54, 2.3], gXTicks, gXLabels, gYTicks, gYLabels, 719);
starPlot('g', axG, gPotential, [['pre-comoo', gPre, '#45a5aa', '#cdf7f2'], ['comoo-ht', gHT, '#3ba2a4', '#b6e05a'], ['comoo-p', gP, '#8fdc78', '#f3ee55']], [555, 538, 522], 205);

/* ---------- panel h ---------- */
(function () {
  const ax = makeAxes('h', 361.3, 607.3, 505, 703.3, [-0.8, 0], [-420, 0], hXTicks, hXLabels, hYTicks, hYLabels, 717);
  let g = series('h', 'after-stability', ax.clip);
  line(g, 'h-line-after-stability', ax, hPotential, hAfter, '#b4e04a', 2.4);
  hPotential.forEach((v, i) => mk(g, 'rect', 'h-point-after-stability', {x: ax.x(v) - 2.4, y: ax.y(hAfter[i]) - 2.4, width: 4.8, height: 4.8, fill: '#a9d83e'}));
  g = series('h', 'comoo-p', ax.clip);
  line(g, 'h-line-comoo-p', ax, hPotential, hP, '#3f74b4', 2.4);
  hPotential.forEach((v, i) => mk(g, 'rect', 'h-point-comoo-p', {x: ax.x(v) - 2.4, y: ax.y(hP[i]) - 2.4, width: 4.8, height: 4.8, fill: '#2d6699'}));
  const leg = mk(svg, 'g', 'h-legend-swatches', {});
  mk(leg, 'line', 'h-legend-line-after', {x1: 363.3, x2: 393.3, y1: 515, y2: 515, stroke: '#b4e04a', 'stroke-width': 2.4});
  mk(leg, 'rect', 'h-legend-square-after', {x: 375.5, y: 512.5, width: 5, height: 5, fill: '#a9d83e'});
  mk(leg, 'line', 'h-legend-line-comoo-p', {x1: 363.3, x2: 393.3, y1: 530.7, y2: 530.7, stroke: '#3f74b4', 'stroke-width': 2.4});
  mk(leg, 'rect', 'h-legend-square-comoo-p', {x: 375.5, y: 528.2, width: 5, height: 5, fill: '#2d6699'});

  const ins = mk(svg, 'g', 'h-inset', {});
  const L = 496.3, R = 603.3, T = 602.7, B = 689.3;
  mk(ins, 'rect', 'h-inset-frame', {x: L, y: T, width: R - L, height: B - T, fill: '#fff', stroke: '#222', 'stroke-width': 1});
  const iy = v => B - v / 275 * (B - T);
  const ix = i => 514 + i * 35.65;
  const w = 12.7;
  hInsetBefore.forEach((v, i) => mk(ins, 'rect', 'h-inset-bar-before', {x: ix(i) - w, y: iy(v), width: w, height: B - iy(v), fill: 'url(#inset-blue)'}));
  hInsetAfter.forEach((v, i) => mk(ins, 'rect', 'h-inset-bar-after', {x: ix(i), y: iy(v), width: w, height: B - iy(v), fill: 'url(#inset-green)'}));
  hInsetBefore.forEach((v, i) => mk(ins, 'text', 'h-inset-value-before', {x: ix(i) - w / 2 - 2, y: iy(v) - 1.5, 'text-anchor': 'middle', style: 'font-size:10.5px'}, String(v)));
  hInsetAfter.forEach((v, i) => mk(ins, 'text', 'h-inset-value-after', {x: ix(i) + w / 2 + 2, y: iy(v) - 1.5, 'text-anchor': 'middle', style: 'font-size:10.5px'}, String(v)));
  ['10 mAcm', '50 mAcm', '100 mAcm'].forEach((lbl, i) => {
    const t = mk(ins, 'text', 'h-inset-category-label', {x: [496.3, 531.7, 566.5][i], y: 696, style: 'font-size:7.4px'}, lbl);
    mk(t, 'tspan', 'h-inset-category-exponent', {dy: -2, 'font-size': 4.5}, '-2');
  });
})();

/* ---------- panel i ---------- */
(function () {
  let ax = makeAxes('i-top', 654.3, 904, 534.7, 660, [0, 50], [-2, 1], i1XTicks, i1XLabels, i1YTicks, i1YLabels, 674);
  let g = series('i-top', 'bands');
  line(g, 'i-top-band-comoo-p', ax, i1Time, i1P, '#3f86c8', 5);
  line(g, 'i-top-band-comoo-ht', ax, i1Time, i1HT, '#5fc2b8', 4);
  line(g, 'i-top-band-pre-comoo', ax, i1Time, i1Pre, '#b8dc3e', 4);
  let leg = mk(svg, 'g', 'i-top-legend-swatches', {});
  shapeEl(leg, 'i-top-legend-comoo-p', 'square', 809.3, 609.3, 2.8, '#2f74b8');
  shapeEl(leg, 'i-top-legend-comoo-ht', 'square', 809.3, 626.3, 2.8, '#5fc2b8');
  shapeEl(leg, 'i-top-legend-pre-comoo', 'square', 809.3, 643.3, 2.8, '#b8dc3e');

  ax = makeAxes('i-middle', 654.3, 904, 698.3, 822.3, [0, 250], [-2.5, 0], i2XTicks, i2XLabels, i2YTicks, i2YLabels, 837.5);
  g = series('i-middle', 'bands');
  line(g, 'i-middle-band-pre-comoo', ax, i2PreTime, i2Pre, '#b8d860', 5.5);
  line(g, 'i-middle-band-comoo-ht', ax, i2HTTime, i2HT, '#5fc2b8', 5.5);
  line(g, 'i-middle-band-comoo-p', ax, i2PTime, i2P, '#3f86c8', 5.5);
  const axMid = ax;
  i2ArrowsTop.forEach(t => downArrow(g, 'i-middle-arrow', axMid.x(t), axMid.y(-0.57), axMid.y(-0.77)));
  i2ArrowsLow.forEach(t => downArrow(g, 'i-middle-arrow', axMid.x(t), axMid.y(-0.906), axMid.y(-1.06)));
  i2ArrowsLowest.forEach(t => downArrow(g, 'i-middle-arrow', axMid.x(t), axMid.y(-1.107), axMid.y(-1.21)));
  leg = mk(svg, 'g', 'i-middle-legend-swatches', {});
  shapeEl(leg, 'i-middle-legend-comoo-p', 'square', 808, 775, 3, '#3f86c8');
  shapeEl(leg, 'i-middle-legend-comoo-ht', 'square', 808, 792, 3, '#5fc2b8');
  shapeEl(leg, 'i-middle-legend-pre-comoo', 'square', 808, 809, 3, '#b8d860');

  ax = makeAxes('i-bottom', 654.3, 904, 861, 985.7, [0, 200], [-5, 0], i3XTicks, i3XLabels, i3YTicks, i3YLabels, 1001);
  g = series('i-bottom', 'bands');
  line(g, 'i-bottom-band-comoo-p', ax, i3Time, i3P, '#3f86c8', 5.5);
  const axBot = ax;
  i3Arrows.forEach(t => downArrow(g, 'i-bottom-arrow', axBot.x(t), axBot.y(-1), axBot.y(-1.43)));
  leg = mk(svg, 'g', 'i-bottom-legend-swatches', {});
  shapeEl(leg, 'i-bottom-legend-comoo-p', 'square', 811.7, 954.7, 3, '#3f86c8');
})();

/* ---------- panel j ---------- */
(function () {
  const ax = makeAxes('j', 82.7, 336.7, 752.7, 956.7, [0, 326], [-25.7, 275.2], jXTicks, jXLabels, jYTicks, jYLabels, 971);
  const g = series('j', 'literature');
  for (let i = jSamples.length - 1; i >= 0; i--) {
    marker(g, 'j-point-' + i, jShapes[i], ax.x(jOverpotential[i]), ax.y(jTafel[i]), i === 0 ? 6.5 : 3.9, jColors[i]);
  }
  const leg = mk(svg, 'g', 'j-legend', {});
  jSamples.forEach((nm, i) => {
    const col = i < 22 ? 0 : 1, row = i < 22 ? i : i - 22;
    const yy = (col ? 754.7 : 753.3) + row * 10.88;
    marker(leg, 'j-legend-marker-' + i, jShapes[i], col ? 488.5 : 362, yy, i === 0 ? 5.5 : 4, jColors[i]);
    const t = mk(leg, 'text', 'j-legend-label-' + i, {x: col ? 500.7 : 374, y: yy + 3, style: 'font-size:8.7px'});
    nm.split('~').forEach((part, k) => {
      if (!part) return;
      const s = mk(t, 'tspan', 'j-legend-label-part', k % 2 ? {'font-size': 6, dy: 2} : {}, part);
      if (k % 2) {
        const back = mk(t, 'tspan', 'j-legend-label-reset', {dy: -2}, '\u200b');
        s.after(back);
      }
    });
  });
})();
</script>
</body>
</html>
